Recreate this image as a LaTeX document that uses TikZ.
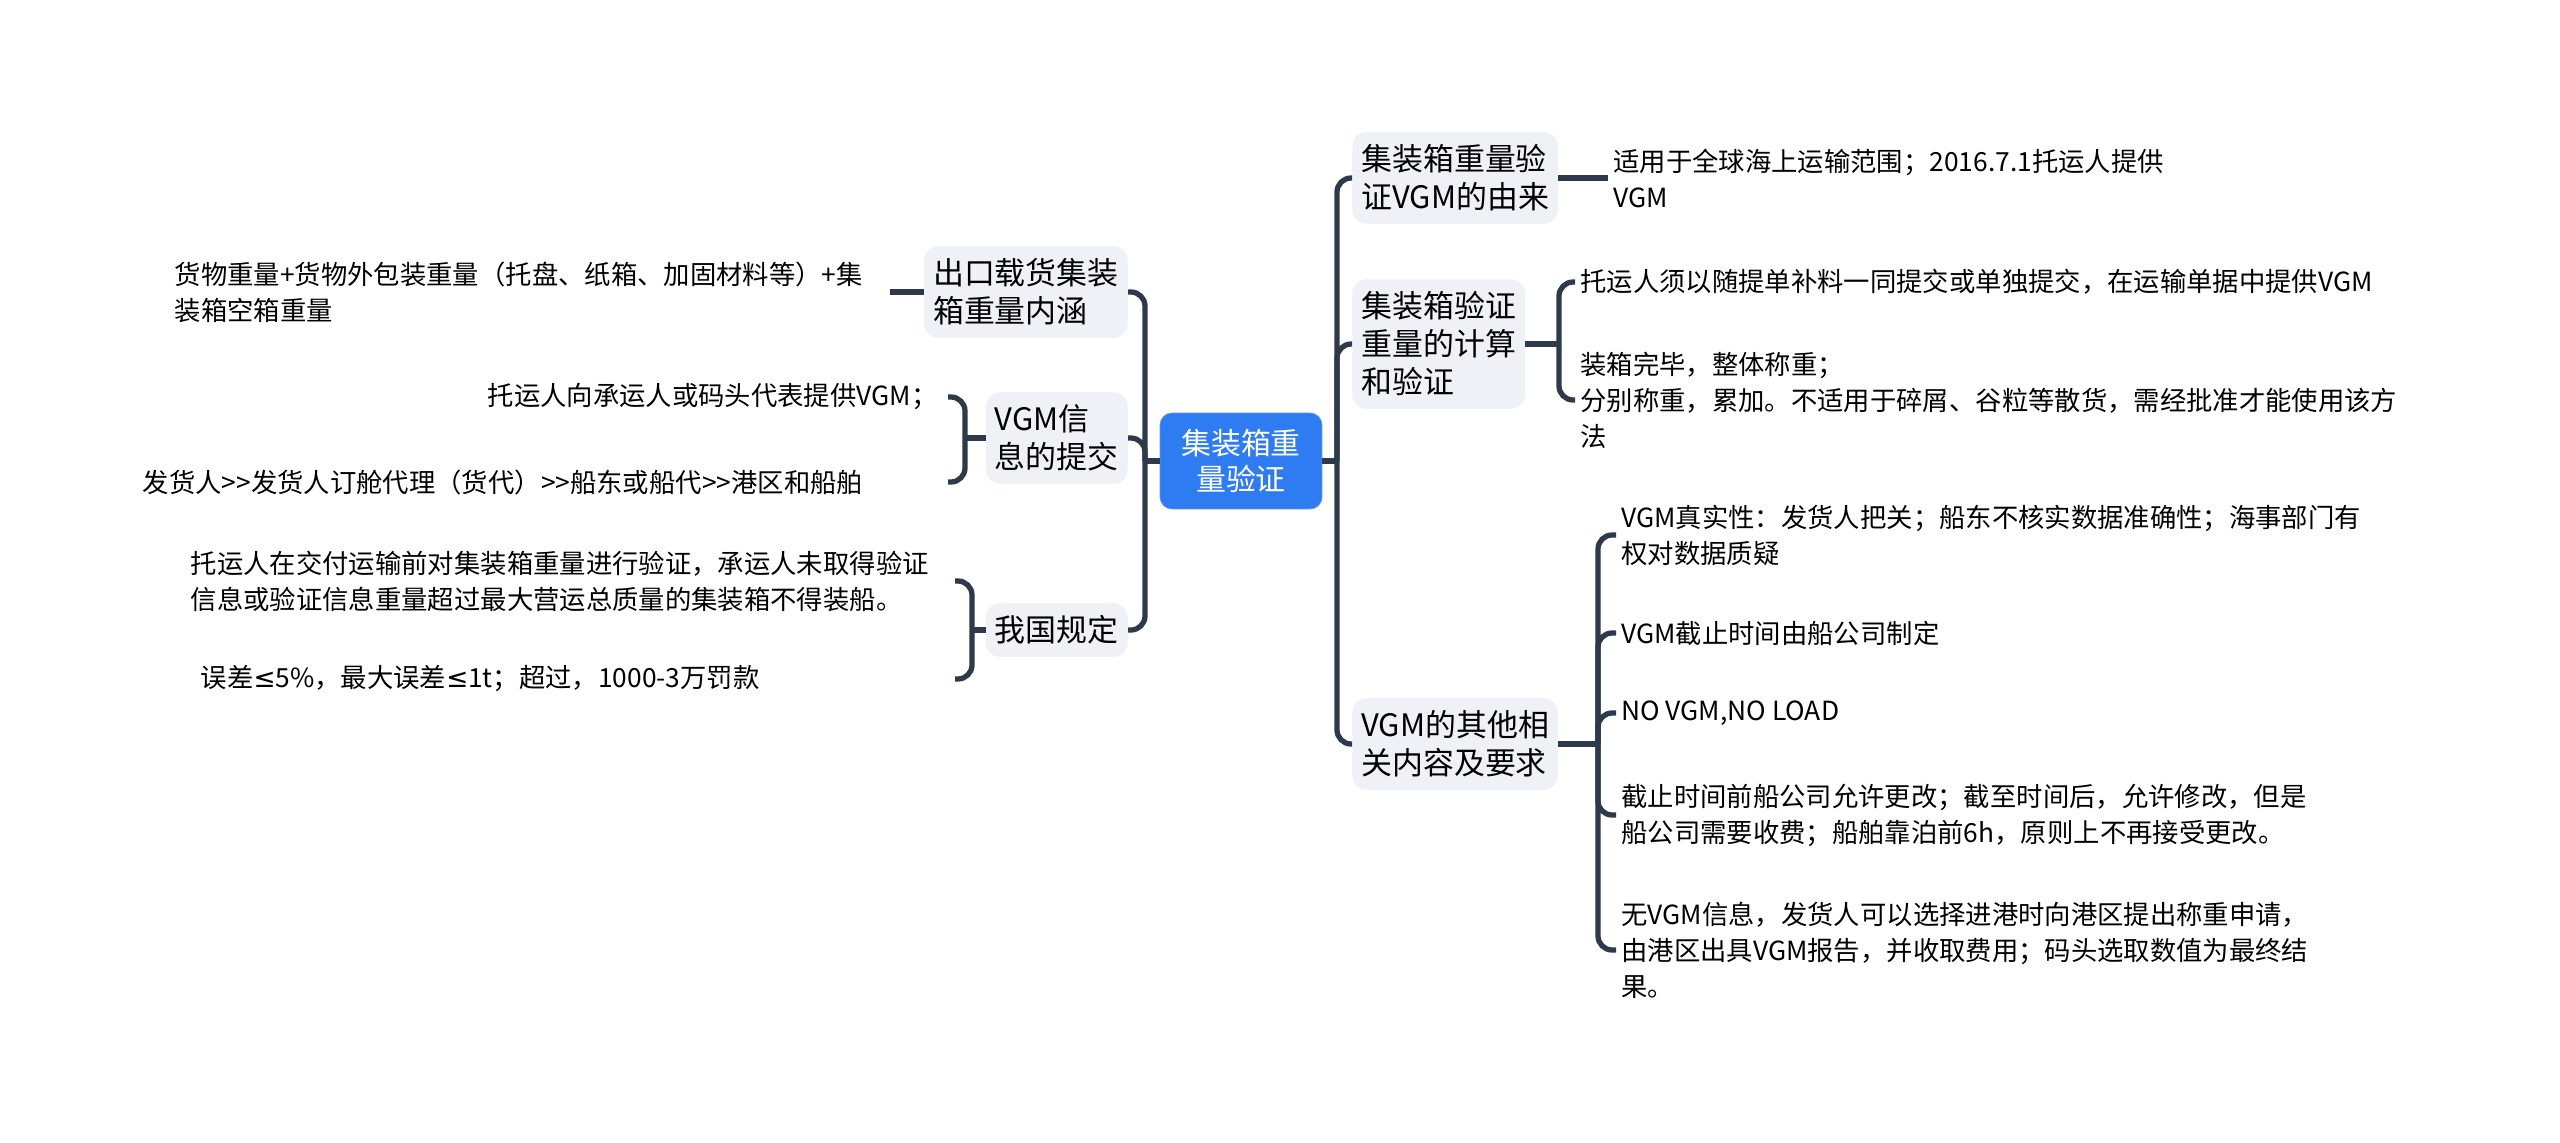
\documentclass[tikz,border=0pt]{standalone}
\usepackage{fontspec}
\setmainfont{Noto Sans CJK SC}
\newfontfamily\symfam{DejaVu Sans}
\newcommand{\lessmark}{{\symfam ≤}}
\definecolor{rootblue}{HTML}{2F7CF2}
\definecolor{boxgray}{HTML}{EEF1F5}
\definecolor{linkcol}{HTML}{2E3A4C}

\begin{document}
\begin{tikzpicture}[
  x=0.02cm, y=-0.02cm,
  root/.style={draw=rootblue!80!white, fill=rootblue, text=white, rounded corners=0.24cm, align=center, minimum width=3.24cm, minimum height=1.92cm, font=\fontsize{17pt}{20pt}\selectfont},
  topic/.style={fill=boxgray, rounded corners=0.28cm, align=left, inner xsep=0.18cm, inner ysep=0.25cm, font=\fontsize{17.6pt}{21.6pt}\selectfont},
  leaf/.style={align=left, inner xsep=0.1cm, inner ysep=0.05cm, font=\fontsize{15pt}{20.5pt}\selectfont},
  link/.style={draw=linkcol, line width=3pt},
  hook/.style={link, rounded corners=8pt}
]
\path[fill=white] (0,0) rectangle (2560,1143);
\useasboundingbox (0,0) rectangle (2560,1143);

\node[root] (root) at (1241,461) {集装箱重\\量验证};

% left side
\node[topic, anchor=east] (out) at (1128,292) {出口载货集装\\箱重量内涵};
\node[topic, anchor=east] (sub) at (1128,438) {VGM信\\息的提交};
\node[topic, anchor=east] (law) at (1128,630) {我国规定};

\node[leaf, anchor=east, text width=14.2cm] (outA) at (890,292) {货物重量+货物外包装重量（托盘、纸箱、加固材料等）+集\\装箱空箱重量};
\node[leaf, anchor=east, text width=9.1cm] (subA) at (948,397) {托运人向承运人或码头代表提供VGM；};
\node[leaf, anchor=east, text width=16.0cm] (subB) at (948,482) {发货人>{}>发货人订舱代理（货代）>{}>船东或船代>{}>港区和船舶};
\node[leaf, anchor=east, text width=15.18cm] (lawA) at (955,581) {托运人在交付运输前对集装箱重量进行验证，承运人未取得验证\\信息或验证信息重量超过最大营运总质量的集装箱不得装船。};
\node[leaf, anchor=east, text width=14.98cm] (lawB) at (955,679) {误差\lessmark5\%，最大误差\lessmark1t；超过，1000-3万罚款};

% right side
\node[topic, anchor=west] (orig) at (1352,178) {集装箱重量验\\证VGM的由来};
\node[topic, anchor=west] (calc) at (1352,344) {集装箱验证\\重量的计算\\和验证};
\node[topic, anchor=west] (other) at (1352,744) {VGM的其他相\\关内容及要求};

\node[leaf, anchor=west] (origA) at (1608,178) {适用于全球海上运输范围；2016.7.1托运人提供\\VGM};
\node[leaf, anchor=west] (calcA) at (1575,282) {托运人须以随提单补料一同提交或单独提交，在运输单据中提供VGM};
\node[leaf, anchor=west] (calcB) at (1575,400) {装箱完毕，整体称重；\\分别称重，累加。不适用于碎屑、谷粒等散货，需经批准才能使用该方\\法};
\node[leaf, anchor=west] (otherA) at (1616,535) {VGM真实性：发货人把关；船东不核实数据准确性；海事部门有\\权对数据质疑};
\node[leaf, anchor=west] (otherB) at (1616,633) {VGM截止时间由船公司制定};
\node[leaf, anchor=west] (otherC) at (1616,713) {NO VGM,NO LOAD};
\node[leaf, anchor=west] (otherD) at (1616,815) {截止时间前船公司允许更改；截至时间后，允许修改，但是\\船公司需要收费；船舶靠泊前6h，原则上不再接受更改。};
\node[leaf, anchor=west] (otherE) at (1616,950) {无VGM信息，发货人可以选择进港时向港区提出称重申请，\\由港区出具VGM报告，并收取费用；码头选取数值为最终结\\果。};

\coordinate (ls) at (1145,461);
\coordinate (rs) at (1337,461);
\coordinate (sb) at (965,438);
\coordinate (lb) at (972,630);
\coordinate (cb) at (1559,344);
\coordinate (ob) at (1598,744);

\draw[link] (root.west) -- (ls);
\draw[link] (root.east) -- (rs);
\foreach \c in {out,sub,law} \draw[hook] (ls) |- (\c.east);
\foreach \c in {orig,calc,other} \draw[hook] (rs) |- (\c.west);

\draw[link] (out.west) -- (outA.east);
\draw[link] (sub.west) -- (sb);
\foreach \l in {subA,subB} \draw[hook] (sb) |- (\l.east);
\draw[link] (law.west) -- (lb);
\foreach \l in {lawA,lawB} \draw[hook] (lb) |- (\l.east);

\draw[link] (orig.east) -- (origA.west);
\draw[link] (calc.east) -- (cb);
\foreach \l in {calcA,calcB} \draw[hook] (cb) |- (\l.west);
\draw[link] (other.east) -- (ob);
\foreach \l in {otherA,otherB,otherC,otherD,otherE} \draw[hook] (ob) |- (\l.west);
\end{tikzpicture}
\end{document}
